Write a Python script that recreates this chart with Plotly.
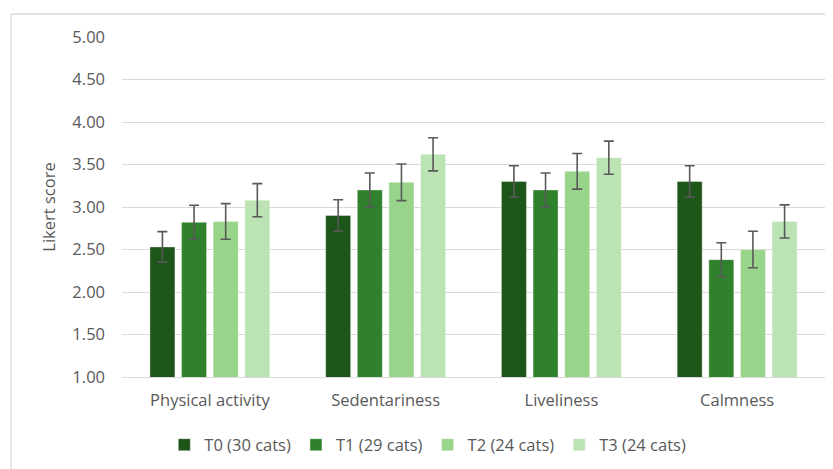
import plotly.graph_objects as go

categories = ["Physical activity", "Sedentariness", "Liveliness", "Calmness"]
series_names = ["T0 (30 cats)", "T1 (29 cats)", "T2 (24 cats)", "T3 (24 cats)"]
t0 = [2.53, 2.90, 3.30, 3.30]
t1 = [2.82, 3.20, 3.20, 2.38]
t2 = [2.83, 3.29, 3.42, 2.50]
t3 = [3.08, 3.62, 3.58, 2.83]
err_t0 = [0.18, 0.185, 0.185, 0.185]
err_t1 = [0.20, 0.20, 0.20, 0.20]
err_t2 = [0.21, 0.215, 0.21, 0.215]
err_t3 = [0.195, 0.195, 0.195, 0.195]
colors = ["#1e561a", "#2f822b", "#98d48a", "#bce3b3"]

# page body has a default 8px margin, so the figure is drawn 8px in
W, H = 825, 461
L, R, T, B = 114, 8, 29, 92
pw = W - L - R
ph = H - T - B

fig = go.Figure()
for name, vals, errs, col in zip(series_names, [t0, t1, t2, t3],
                                 [err_t0, err_t1, err_t2, err_t3], colors):
    fig.add_trace(go.Bar(
        name=name, x=categories, y=vals, marker_color=col,
        marker_line=dict(width=0.6, color="rgba(255,255,255,0.6)"),
        error_y=dict(type="data", array=errs, visible=True,
                     color="#595959", thickness=1.6, width=5),
    ))

font_family = "Open Sans, Lato, sans-serif"
fig.update_layout(
    width=W, height=H,
    margin=dict(l=L, r=R, t=T, b=B, autoexpand=False),
    paper_bgcolor="white", plot_bgcolor="white",
    barmode="group", bargap=0.28, bargroupgap=0.21,
    font=dict(family=font_family, size=16, color="#595959"),
    showlegend=True,
    legend=dict(orientation="h", x=0.435, xanchor="center", y=-0.2,
                yanchor="middle", font=dict(size=16.5, color="#595959"),
                itemwidth=30, traceorder="normal"),
    yaxis=dict(range=[1, 5], dtick=0.5, tick0=1, tickformat=".2f",
               showgrid=True, gridcolor="#d9d9d9", gridwidth=1.3,
               zeroline=False, showline=False, ticks="",
               ticklabelstandoff=16,
               tickfont=dict(size=16.5, color="#595959"),
               title=dict(text="Likert score", standoff=12,
                          font=dict(size=16.5, color="#595959"))),
    xaxis=dict(showgrid=False, showline=True, linecolor="#d9d9d9",
               linewidth=1.3, ticks="", tickfont=dict(size=16.5, color="#595959"),
               ticklabelstandoff=8),
)

# chart frame (top and left edges visible)
x_left = (3 - L) / pw
y_top = 1 + (T - 6) / ph
fig.add_shape(type="line", xref="paper", yref="paper",
              x0=x_left, x1=(W + 5 - L) / pw, y0=y_top, y1=y_top,
              line=dict(color="#d9d9d9", width=1.3))
fig.add_shape(type="line", xref="paper", yref="paper",
              x0=x_left, x1=x_left, y0=y_top, y1=1 - (H + 5 - T) / ph,
              line=dict(color="#d9d9d9", width=1.3))

fig.write_html("out.html")
